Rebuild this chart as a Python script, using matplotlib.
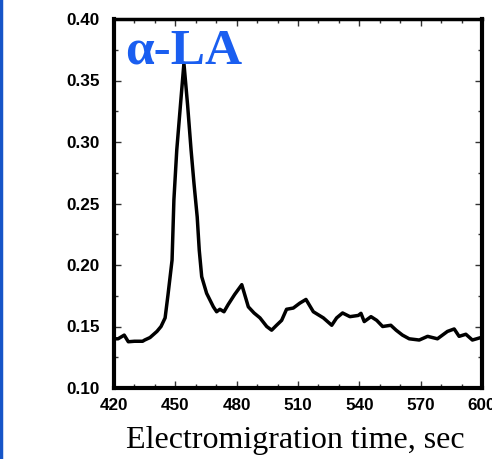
import matplotlib
matplotlib.use("Agg")
import matplotlib.pyplot as plt
from matplotlib.lines import Line2D
from matplotlib.ticker import MultipleLocator

# electropherogram trace: migration time (s) vs absorbance
time_s = [420, 422, 425, 427, 430, 434, 435, 437.6, 441, 443, 445, 446.4, 448.4,
          449.3, 450.7, 452.5, 454.2, 456, 457.7, 459.1, 460.7, 461.7, 462.9,
          465.3, 468.6, 470.2, 471.8, 473.8, 475.9, 479, 482.5, 485.7, 488.5,
          491.4, 494.7, 497.1, 499.5, 502, 504.4, 507.7, 510.9, 513.9, 517.5,
          522.4, 526.5, 528.9, 531.8, 535.4, 539.5, 540.8, 542.4, 545.7, 548.5,
          551.4, 555.4, 558, 561.1, 564.4, 569.3, 573.4, 578.2, 583.1, 586.4,
          588.8, 592.1, 595.3, 599.4, 600]
signal = [0.140, 0.140, 0.143, 0.1376, 0.138, 0.138, 0.139, 0.141, 0.146, 0.150,
          0.157, 0.1756, 0.204, 0.253, 0.2935, 0.330, 0.364, 0.330, 0.2935, 0.2667,
          0.239, 0.212, 0.1905, 0.177, 0.166, 0.162, 0.164, 0.162, 0.168, 0.176,
          0.184, 0.166, 0.161, 0.157, 0.150, 0.147, 0.151, 0.155, 0.164, 0.165,
          0.169, 0.172, 0.162, 0.157, 0.151, 0.157, 0.161, 0.158, 0.159, 0.1607,
          0.154, 0.158, 0.155, 0.150, 0.151, 0.147, 0.143, 0.140, 0.139, 0.142,
          0.140, 0.146, 0.148, 0.142, 0.1437, 0.139, 0.141, 0.141]

x_ticks = [420, 450, 480, 510, 540, 570, 600]
y_ticks = [0.10, 0.15, 0.20, 0.25, 0.30, 0.35, 0.40]

fig = plt.figure(figsize=(4.92, 4.59), dpi=100)
ax = fig.add_axes([114 / 492, 1 - 388 / 459, 368 / 492, 369 / 459])

ax.plot(time_s, signal, color="black", lw=2.5, solid_joinstyle="round")

ax.set_xlim(420, 600)
ax.set_ylim(0.10, 0.40)
ax.set_xticks(x_ticks)
ax.set_yticks(y_ticks)
ax.set_yticklabels([f"{v:.2f}" for v in y_ticks])
ax.xaxis.set_minor_locator(MultipleLocator(10))
ax.yaxis.set_minor_locator(MultipleLocator(0.025))

ax.tick_params(which="both", direction="in", top=True, right=True,
               width=1, color="#333333")
ax.tick_params(which="major", length=5)
ax.tick_params(which="minor", length=3)
ax.tick_params(axis="y", which="major", pad=10)
ax.tick_params(axis="x", which="major", pad=7)
for lab in ax.get_xticklabels() + ax.get_yticklabels():
    lab.set_fontfamily("Liberation Sans")
    lab.set_fontweight("bold")
    lab.set_fontsize(12.3)

for side in ["left", "bottom", "right", "top"]:
    ax.spines[side].set_linewidth(3)
ax.spines["top"].set_linewidth(2.5)

ax.text(0.03, 0.88, "α-LA", transform=ax.transAxes, color="#1a5ef0",
        fontfamily="Liberation Serif", fontweight="bold", fontsize=37,
        ha="left", va="baseline")

fig.text(295 / 492, 1 - 448 / 459, "Electromigration time, sec",
         fontfamily="Liberation Serif", fontsize=23, ha="center", va="baseline")

# blue border line on the left edge
fig.add_artist(Line2D([0.003, 0.003], [0, 1], transform=fig.transFigure,
                      color="#1655c8", lw=2.5))

fig.savefig("out.png", dpi=100)
